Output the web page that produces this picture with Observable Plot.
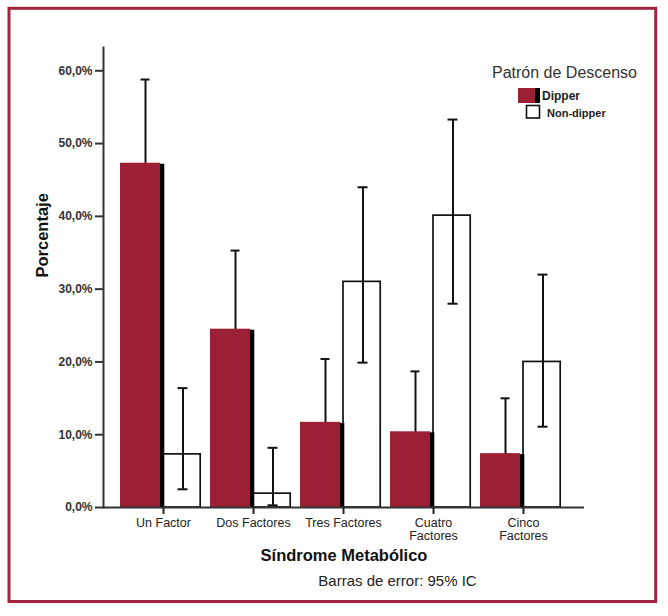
<!DOCTYPE html>
<html>
<head>
<meta charset="utf-8">
<script src="https://cdn.jsdelivr.net/npm/d3@7"></script>
<script src="https://cdn.jsdelivr.net/npm/@observablehq/plot@0.6"></script>
<style>
  html, body { margin: 0; padding: 0; background: #fff; }
  #chart { width: 668px; height: 616px; }
  #chart svg { display: block; }
</style>
</head>
<body>
<div id="chart"></div>
<script>
// ---- data ----
const categories = ["Un Factor", "Dos Factores", "Tres Factores", "Cuatro Factores", "Cinco Factores"];
const tickLabels = ["Un Factor", "Dos Factores", "Tres Factores", "Cuatro\nFactores", "Cinco\nFactores"];
const dipper       = [47.3, 24.5, 11.7, 10.4, 7.4];
const dipperHi     = [58.8, 35.3, 20.4, 18.7, 15.0];
const dipperLo     = [35.8, 13.7, 3.0, 2.1, 0.2];
const nonDipper    = [7.3, 1.9, 31.0, 40.1, 20.0];
const nonDipperHi  = [16.4, 8.2, 44.0, 53.3, 32.0];
const nonDipperLo  = [2.5, 0.3, 19.9, 28.0, 11.1];
const yTicks = [0, 10, 20, 30, 40, 50, 60];
const seriesNames = ["Dipper", "Non-dipper"];
const legendTitle = "Patrón de Descenso";
const xTitle = "Síndrome Metabólico";
const yTitle = "Porcentaje";
const caption = "Barras de error: 95% IC";

const RED = "#9b1f35";
const rows = categories.map((c, i) => ({
  cat: c, d: dipper[i], dHi: dipperHi[i], dLo: dipperLo[i],
  n: nonDipper[i], nHi: nonDipperHi[i], nLo: nonDipperLo[i]
}));
const labelOf = Object.fromEntries(categories.map((c, i) => [c, tickLabels[i]]));
const fmt = d => d.toFixed(1).replace(".", ",") + "%";

const chart = Plot.plot({
  width: 668, height: 616,
  marginLeft: 103, marginRight: 84, marginTop: 47, marginBottom: 109,
  style: { fontFamily: "'Liberation Sans', Arial, sans-serif", background: "#fff", color: "#222" },
  x: { domain: categories, paddingInner: 0.1, paddingOuter: 0.222, align: 0.425, axis: null },
  y: { domain: [0, 63.2], axis: null },
  marks: [
    // non-dipper outlined bars
    Plot.barY(rows, { x: "cat", y: "n", fill: "#fff", stroke: "#111", strokeWidth: 1.7, insetLeft: 43, insetRight: 0.8 }),
    // error bars
    Plot.ruleX(rows, { x: "cat", y1: "nLo", y2: "nHi", dx: 22, stroke: "#111", strokeWidth: 2 }),
    Plot.tickY(rows, { x: "cat", y: "nHi", insetLeft: 57.5, insetRight: 13.5, stroke: "#111", strokeWidth: 2 }),
    Plot.tickY(rows, { x: "cat", y: "nLo", insetLeft: 57.5, insetRight: 13.5, stroke: "#111", strokeWidth: 2 }),
    Plot.ruleX(rows, { x: "cat", y1: "dLo", y2: "dHi", dx: -15.5, stroke: "#111", strokeWidth: 2 }),
    Plot.tickY(rows, { x: "cat", y: "dHi", insetLeft: 20.5, insetRight: 51.5, stroke: "#111", strokeWidth: 2 }),
    // dipper shadow + bar
    Plot.barY(rows, { x: "cat", y: "d", fill: "#000", insetLeft: 40, insetRight: 36.7, dy: 1 }),
    Plot.barY(rows, { x: "cat", y: "d", fill: RED, insetLeft: 0, insetRight: 41 }),
    // axes lines
    Plot.ruleY([0], { stroke: "#333", strokeWidth: 2 }),
    Plot.frame({ anchor: "left", stroke: "#333", strokeWidth: 2 }),
    // y axis
    Plot.axisY({ ticks: yTicks, tickFormat: fmt, tickSize: 8, tickPadding: 3, stroke: "#333", strokeWidth: 2,
                 fontSize: 12, fontWeight: "bold", fill: "#333", label: null }),
    // x axis
    Plot.axisX({ tickFormat: d => labelOf[d], tickSize: 7, tickPadding: 4, dx: 2.5, stroke: "#222", strokeWidth: 2,
                 fontSize: 12.5, fill: "#222", lineHeight: 1.0, label: null }),
    // titles
    Plot.text([xTitle], { frameAnchor: "bottom", dy: 53, fontSize: 16.5, fontWeight: "bold", fill: "#111" }),
    Plot.text([caption], { frameAnchor: "bottom", dx: 53.5, dy: 78, fontSize: 15, fill: "#222" }),
    Plot.text([yTitle], { frameAnchor: "left", dx: -61, rotate: -90, fontSize: 16.5, fontWeight: "bold", fill: "#111" })
  ]
});

document.getElementById("chart").appendChild(chart);

// legend and outer border
const svg = d3.select(chart);
const lg = svg.append("g").attr("font-family", "'Liberation Sans', Arial, sans-serif").attr("text-anchor", "start");
lg.append("text").attr("x", 492).attr("y", 78).attr("font-size", 16).attr("fill", "#333").text(legendTitle);
lg.append("rect").attr("x", 518).attr("y", 88).attr("width", 17.5).attr("height", 15).attr("fill", RED);
lg.append("rect").attr("x", 535).attr("y", 88).attr("width", 5).attr("height", 15).attr("fill", "#000");
lg.append("text").attr("x", 542).attr("y", 100).attr("font-size", 12).attr("font-weight", "bold").attr("fill", "#222").text(seriesNames[0]);
lg.append("rect").attr("x", 526.5).attr("y", 105.5).attr("width", 13).attr("height", 12.5)
  .attr("fill", "#fff").attr("stroke", "#111").attr("stroke-width", 1.6);
lg.append("text").attr("x", 547).attr("y", 116.5).attr("font-size", 11).attr("font-weight", "bold").attr("fill", "#222").text(seriesNames[1]);
svg.append("rect").attr("x", 9).attr("y", 8.3).attr("width", 646.7).attr("height", 593.2)
  .attr("fill", "none").attr("stroke", "#a3243f").attr("stroke-width", 3);
</script>
</body>
</html>
